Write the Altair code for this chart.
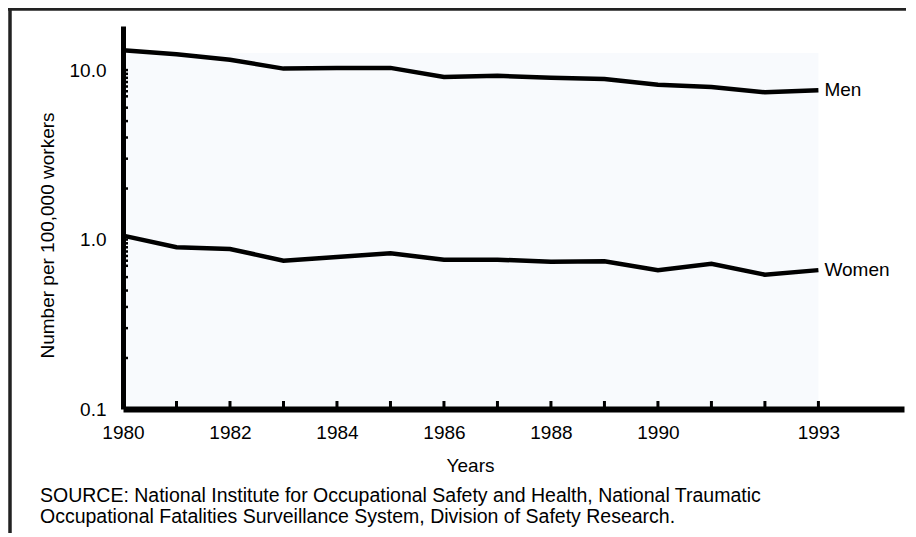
import altair as alt
import pandas as pd

# ---- data ----
YEARS = list(range(1980, 1994))
MEN = [13.1, 12.4, 11.5, 10.2, 10.3, 10.3, 9.1, 9.25, 9.0, 8.85, 8.2, 7.95, 7.4, 7.6]
WOMEN = [1.055, 0.90, 0.88, 0.75, 0.79, 0.83, 0.76, 0.76, 0.74, 0.745, 0.66, 0.72, 0.62, 0.66]
SERIES_NAMES = ["Men", "Women"]
X_LABELS = [1980, 1982, 1984, 1986, 1988, 1990, 1993]
X_TICKS = list(range(1981, 1994))
Y_LABELS = [0.1, 1.0, 10.0]
Y_TICKS = [0.2, 0.3, 0.4, 0.5, 0.6, 0.7, 0.75, 0.8, 0.85, 0.9, 0.95, 1.0,
           2, 3, 4, 5, 6, 7, 7.5, 8, 8.5, 9, 9.5, 10]
X_DOMAIN = [1980, 1994.6]
Y_DOMAIN = [0.1, 18.2]
PANEL = [{"x": 1980, "x2": 1993, "y": 0.1, "y2": 12.6}]
SOURCE_LINES = [
    "SOURCE: National Institute for Occupational Safety and Health, National Traumatic",
    "Occupational Fatalities Surveillance System, Division of Safety Research.",
]
X_TITLE = "Years"
Y_TITLE = "Number per 100,000 workers"

FONT = "Liberation Sans"
W, H = 781, 383
PAD = {"left": 115, "top": 18, "right": 2, "bottom": 124}

rows = []
for name, vals in zip(SERIES_NAMES, [MEN, WOMEN]):
    for yr, v in zip(YEARS, vals):
        rows.append({"year": yr, "rate": v, "sex": name})
df = pd.DataFrame(rows)
last = df[df["year"] == YEARS[-1]]

xscale = alt.Scale(domain=X_DOMAIN, nice=False, zero=False)
yscale = alt.Scale(type="log", domain=Y_DOMAIN, nice=False)

x_axis = alt.Axis(
    values=X_LABELS, format="d", ticks=False, grid=False, zindex=1,
    labelFlush=False, labelOverlap=False,
    domainColor="black", domainWidth=6, labelFontSize=19,
    labelColor="black", labelPadding=14, labelFont=FONT,
    title=X_TITLE, titleFontSize=19, titleFontWeight="normal",
    titleFont=FONT, titleColor="black", titleX=347, titleY=56,
    titleBaseline="middle", titleAlign="center",
)
y_axis = alt.Axis(
    values=Y_LABELS, format=".1f", ticks=False, grid=False, zindex=1,
    labelFlush=False, labelOverlap=False,
    domainColor="black", domainWidth=5, labelFontSize=19,
    labelColor="black", labelPadding=17, labelFont=FONT,
    title=Y_TITLE, titleFontSize=19, titleFontWeight="normal",
    titleFont=FONT, titleColor="black", titleX=-76, titleY=209,
    titleBaseline="middle", titleAlign="center", titleAngle=270,
)

panel = alt.Chart(pd.DataFrame(PANEL)).mark_rect(color="#f8fafd").encode(
    x=alt.X("x:Q", scale=xscale, axis=x_axis),
    x2="x2:Q",
    y=alt.Y("y:Q", scale=yscale, axis=y_axis),
    y2="y2:Q",
)

lines = alt.Chart(df).mark_line(color="black", strokeWidth=4.5).encode(
    x=alt.X("year:Q", scale=xscale, axis=x_axis),
    y=alt.Y("rate:Q", scale=yscale, axis=y_axis),
    detail="sex:N",
)

labels = alt.Chart(last).mark_text(
    align="left", baseline="middle", dx=6, fontSize=19, font=FONT, color="black"
).encode(
    x=alt.X("year:Q", scale=xscale, axis=x_axis),
    y=alt.Y("rate:Q", scale=yscale, axis=y_axis),
    text="sex:N",
)

yticks = alt.Chart(pd.DataFrame({"v": Y_TICKS})).mark_rule(
    color="black", strokeWidth=2.5
).encode(
    y=alt.Y("v:Q", scale=yscale, axis=y_axis),
    x=alt.value(0),
    x2=alt.value(5),
)

xticks = alt.Chart(pd.DataFrame({"t": X_TICKS})).mark_rule(
    color="black", strokeWidth=3
).encode(
    x=alt.X("t:Q", scale=xscale, axis=x_axis),
    y=alt.value(H),
    y2=alt.value(H - 8),
)

one = pd.DataFrame({"k": [0]})
frame_top = alt.Chart(one).mark_rule(color="#222222", strokeWidth=3.5).encode(
    x=alt.value(-PAD["left"]), x2=alt.value(W + PAD["right"]), y=alt.value(-17)
)
frame_left = alt.Chart(one).mark_rule(color="#222222", strokeWidth=3.5).encode(
    x=alt.value(-113), y=alt.value(-PAD["top"]), y2=alt.value(H + PAD["bottom"])
)

source = alt.Chart(one).mark_text(
    align="left", baseline="alphabetic", fontSize=19.5, font=FONT,
    color="black", lineHeight=21,
).encode(
    x=alt.value(-83), y=alt.value(476), text=alt.value(SOURCE_LINES)
)

chart = alt.layer(
    panel, lines, labels, yticks, xticks, frame_top, frame_left, source
).properties(
    width=W, height=H,
    autosize=alt.AutoSizeParams(type="none"),
    padding=PAD,
    background="white",
).configure_view(stroke=None)

chart.save("out.html", embed_options={"renderer": "svg", "actions": False})
